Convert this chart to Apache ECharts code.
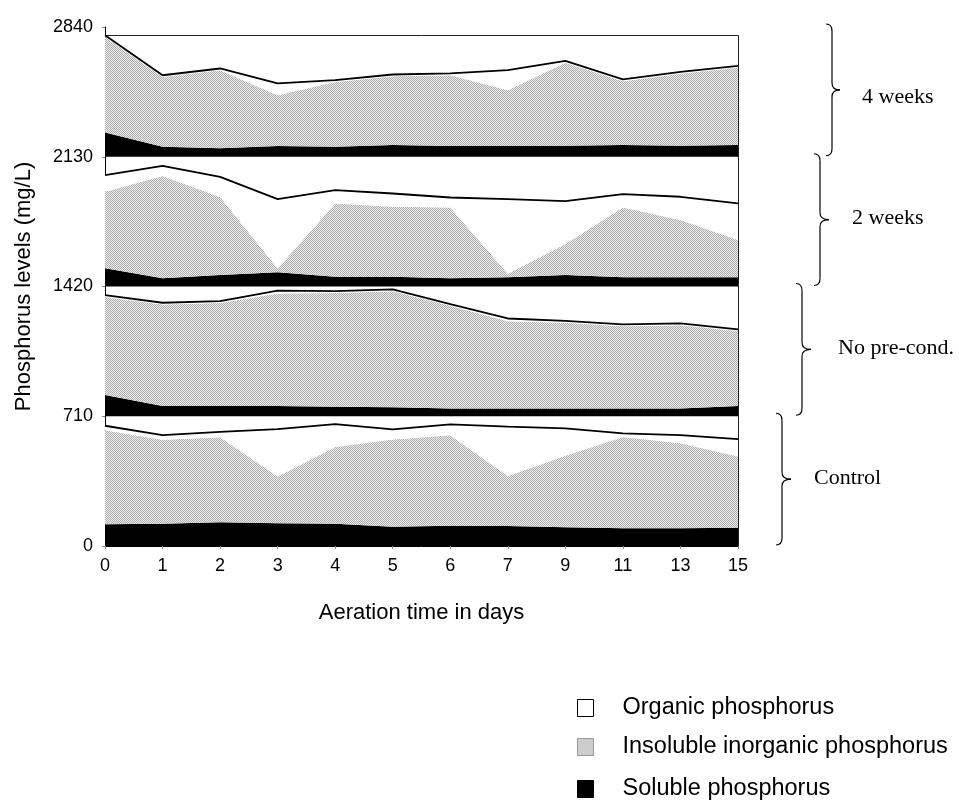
<!DOCTYPE html>
<html><head><meta charset="utf-8">
<script src="https://cdn.jsdelivr.net/npm/echarts@6/dist/echarts.min.js"></script>
<style>html,body{margin:0;padding:0;background:#fff}#chart{width:959px;height:805px}</style>
</head><body><div id="chart"></div>
<script>
// ---------- data ----------
const days = ['0','1','2','3','4','5','6','7','9','11','13','15'];
const yMax = 2840;
const yStep = 710;
const panelNames = ['Control','No pre-cond.','2 weeks','4 weeks'];
const panelOffsets = [0, 710, 1420, 2130];

const controlSoluble   = [119,122,130,124,122,106,111,110,103, 97, 97,100];
const controlInsoluble = [514,460,465,256,420,477,495,273,391,499,465,390];
const controlOrganic   = [ 25, 25, 30,260,125, 55, 60,270,150, 20, 45, 95];

const noPreSoluble   = [116, 56, 56, 56, 52, 49, 43, 43, 43, 43, 43, 56];
const noPreInsoluble = [537,555,564,616,623,635,561,477,469,450,455,409];
const noPreOrganic   = [ 10, 10, 10, 15, 10, 10, 10, 15, 10, 10, 10, 10];

const twoWkSoluble   = [100, 45, 63, 78, 54, 54, 45, 50, 63, 50, 50, 50];
const twoWkInsoluble = [419,560,427, 20,400,382,387, 20,169,382,314,205];
const twoWkOrganic   = [ 90, 55,110,380, 73, 73, 55,408,235, 73,127,200];

const fourWkSoluble   = [133, 55, 46, 59, 55, 64, 59, 59, 60, 64, 60, 64];
const fourWkInsoluble = [522,381,427,277,354,376,387,305,455,349,394,423];
const fourWkOrganic   = [ 10, 10, 10, 65, 10, 10, 10,110, 10, 10, 10, 10];

const frameTopValue = 2795;

const NAME_ORG = 'Organic phosphorus';
const NAME_INS = 'Insoluble inorganic phosphorus';
const NAME_SOL = 'Soluble phosphorus';

const panels = [
  {sol: controlSoluble, ins: controlInsoluble, org: controlOrganic},
  {sol: noPreSoluble,   ins: noPreInsoluble,   org: noPreOrganic},
  {sol: twoWkSoluble,   ins: twoWkInsoluble,   org: twoWkOrganic},
  {sol: fourWkSoluble,  ins: fourWkInsoluble,  org: fourWkOrganic}
];

// ---------- styling ----------
function makePattern(){
  const c = document.createElement('canvas'); c.width = 2; c.height = 2;
  const g = c.getContext('2d');
  g.fillStyle = '#f0f0f0'; g.fillRect(0,0,2,2);
  g.fillStyle = '#aaaaaa'; g.fillRect(0,0,1,1); g.fillRect(1,1,1,1);
  return c;
}
const grayFill = {image: makePattern(), repeat: 'repeat'};
const SANS = "'Liberation Sans', Arial, Helvetica, sans-serif";
const SERIF = "'Liberation Serif', 'Times New Roman', serif";

const series = [];
panels.forEach((p, i) => {
  const stack = 'panel' + i;
  series.push({
    name: '_base' + i, type: 'line', stack, silent: true,
    data: days.map(() => panelOffsets[i]), symbol: 'none',
    lineStyle: {width: 0, opacity: 0}, z: 2 + i
  });
  series.push({
    name: NAME_SOL, type: 'line', stack, data: p.sol, symbol: 'none',
    lineStyle: {width: 0}, itemStyle: {color: '#000'},
    areaStyle: {color: '#000', opacity: 1}, z: 2 + i
  });
  series.push({
    name: NAME_INS, type: 'line', stack, data: p.ins, symbol: 'none',
    lineStyle: {width: 0}, itemStyle: {color: '#cfcfcf'},
    areaStyle: {color: grayFill, opacity: 1}, z: 2 + i
  });
  const orgSeries = {
    name: NAME_ORG, type: 'line', stack, data: p.org, symbol: 'none',
    lineStyle: {width: 1.8, color: '#000'}, itemStyle: {color: '#fff'},
    areaStyle: {color: '#fff', opacity: 1}, z: 3 + i
  };
  if (i === panels.length - 1) {
    orgSeries.markLine = {
      silent: true, symbol: 'none', label: {show: false},
      lineStyle: {color: '#222', width: 1, type: 'solid'},
      data: [
        [{coord: [days[0], frameTopValue]}, {coord: [days[days.length-1], frameTopValue]}],
        [{coord: [days[days.length-1], 0]}, {coord: [days[days.length-1], frameTopValue]}]
      ]
    };
  }
  series.push(orgSeries);
});

const legendItems = [
  {name: NAME_ORG, icon: 'rect', itemStyle: {color: '#fff', borderColor: '#000', borderWidth: 1}},
  {name: NAME_INS, icon: 'rect', itemStyle: {color: grayFill, borderColor: '#999', borderWidth: 1}},
  {name: NAME_SOL, icon: 'rect', itemStyle: {color: '#000', borderColor: '#000', borderWidth: 1}}
];
const legendRowTops = [696, 735, 777];
const legends = legendItems.map((it, k) => ({
  orient: 'horizontal', left: 577, top: legendRowTops[k], padding: 0,
  itemWidth: 16, itemHeight: 17, selectedMode: false,
  textStyle: {fontFamily: SANS, fontSize: 23.5, color: '#000', padding: [0, 0, 0, 24]},
  data: [it]
}));

const chart = echarts.init(document.getElementById('chart'), null, {renderer: 'canvas'});
chart.setOption({
  animation: false,
  backgroundColor: '#fff',
  grid: {left: 105, right: 221, top: 27, bottom: 259, containLabel: false},
  xAxis: {
    type: 'category', data: days, boundaryGap: false,
    name: 'Aeration time in days', nameLocation: 'middle', nameGap: 56,
    nameTextStyle: {fontFamily: SANS, fontSize: 22, color: '#000'},
    axisLine: {lineStyle: {color: '#000', width: 1}},
    axisTick: {show: true, length: 3, lineStyle: {color: '#888'}},
    axisLabel: {fontFamily: SANS, fontSize: 18, color: '#000', margin: 11},
    splitLine: {show: false}
  },
  yAxis: {
    type: 'value', min: 0, max: yMax, interval: yStep,
    name: 'Phosphorus levels (mg/L)', nameLocation: 'middle', nameGap: 70, nameRotate: 90,
    nameTextStyle: {fontFamily: SANS, fontSize: 22, color: '#000'},
    axisLine: {show: true, lineStyle: {color: '#000', width: 1}},
    axisTick: {show: true, length: 3, lineStyle: {color: '#888'}},
    axisLabel: {fontFamily: SANS, fontSize: 18, color: '#000', margin: 12,
                formatter: v => String(v)},
    splitLine: {show: false}
  },
  legend: legends,
  series
});

// ---------- braces and panel labels ----------
const braceLayout = [
  {xl: 776, xv: 782, xt: 791, labelX: 814, dy: 0},
  {xl: 796, xv: 802, xt: 811, labelX: 838, dy: 0},
  {xl: 814, xv: 820, xt: 829, labelX: 852, dy: 0},
  {xl: 826, xv: 832, xt: 840, labelX: 862, dy: 8}
];
const braceStyle = {stroke: '#000', lineWidth: 1.2, fill: null};
function braceElements(xl, xv, xt, y1, y2){
  const ym = (y1 + y2) / 2, r = 7;
  const curve = (x1, yy1, cpx, cpy, x2, yy2) => ({
    type: 'bezierCurve', silent: true,
    shape: {x1: x1, y1: yy1, cpx1: cpx, cpy1: cpy, x2: x2, y2: yy2},
    style: braceStyle
  });
  const line = (a, b) => ({
    type: 'line', silent: true,
    shape: {x1: xv, y1: a, x2: xv, y2: b}, style: braceStyle
  });
  return [
    curve(xl, y1, xv, y1, xv, y1 + r),
    line(y1 + r, ym - r),
    curve(xv, ym - r, xv, ym, xt, ym),
    curve(xt, ym, xv, ym, xv, ym + r),
    line(ym + r, y2 - r),
    curve(xv, y2 - r, xv, y2, xl, y2)
  ];
}
const graphics = [];
panelNames.forEach((nm, i) => {
  const yBot = chart.convertToPixel({yAxisIndex: 0}, panelOffsets[i]);
  const yTop = chart.convertToPixel({yAxisIndex: 0}, panelOffsets[i] + yStep);
  const L = braceLayout[i];
  const y1 = yTop - 3, y2 = yBot - 1;
  braceElements(L.xl, L.xv, L.xt, y1, y2).forEach(e => graphics.push(e));
  graphics.push({
    type: 'text', silent: true, left: L.labelX, top: (y1 + y2) / 2 + L.dy - 12,
    style: {text: nm, font: `22px ${SERIF}`, fill: '#000'}
  });
});
chart.setOption({graphic: graphics});
</script></body></html>
